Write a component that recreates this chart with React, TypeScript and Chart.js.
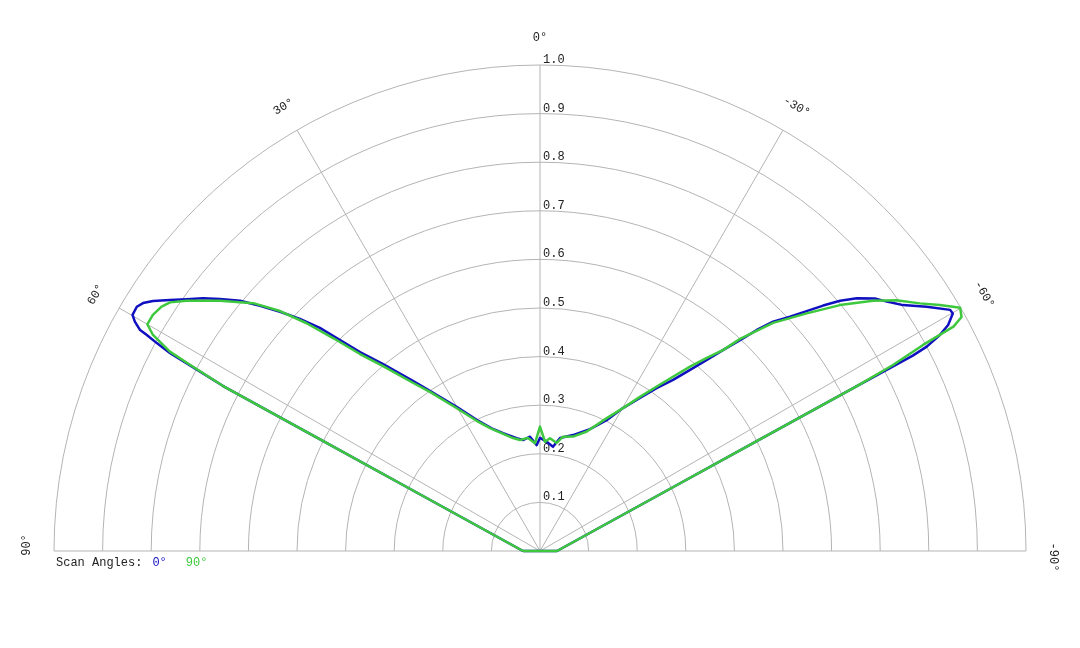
import React, { useEffect, useRef } from "react";
import { Chart, registerables } from "chart.js";

Chart.register(...registerables);

// Polar data: angle in degrees (positive = left of 0°), normalised radius
const blueAngles = [
  90, 64.83, 63.12, 62.5, 62.02, 61.85, 61.52, 61.22, 61.08, 60.48, 59.91, 58.79, 58.01, 57.14,
  55.85, 54.53, 53.14, 51.78, 50.16, 48.78, 47.37, 45.97, 44.61, 43.47, 42.14, 40.02, 36.77,
  34.51, 29.96, 25.68, 21.07, 17.41, 11.68, 8.71, 5.0, 1.78, 0, -3.5, -7.1, -10.06, -15.88,
  -22.29, -26.99, -30.13, -33.17, -35.6, -37.88, -39.65, -41.11, -42.32, -43.6, -44.44, -45.46,
  -46.86, -48.02, -49.08, -50.19, -51.41, -52.97, -54.28, -55.88, -57.72, -59.55, -60.08,
  -61.02, -61.63, -62.15, -62.34, -62.5, -63.12, -64.83, -90, 90,
];
const blueR = [
  0.035, 0.266, 0.501, 0.735, 0.823, 0.863, 0.897, 0.923, 0.94, 0.958, 0.969, 0.97, 0.963, 0.948,
  0.92, 0.893, 0.867, 0.838, 0.804, 0.766, 0.727, 0.687, 0.645, 0.598, 0.552, 0.502, 0.437,
  0.4, 0.342, 0.299, 0.269, 0.254, 0.237, 0.231, 0.236, 0.218, 0.233, 0.225, 0.216, 0.236, 0.248,
  0.271, 0.302, 0.34, 0.376, 0.412, 0.446, 0.484, 0.522, 0.559, 0.602, 0.637, 0.673,
  0.705, 0.738, 0.771, 0.804, 0.834, 0.863, 0.879, 0.902, 0.941, 0.979, 0.98,
  0.96, 0.935, 0.9, 0.866, 0.735, 0.501, 0.266, 0.035, 0.035,
];

const greenAngles = [
  90, 64.83, 63.12, 62.5, 62.0, 61.69, 60.83, 60.0, 58.63, 57.14, 56.09, 54.71, 51.97, 49.17,
  47.29, 45.7, 44.18, 42.42, 40.32, 37.02, 34.68, 30.22, 25.96, 22.12, 13.44, 10.21, 6.06, 2.65,
  0, -2.62, -5.06, -8.79, -11.38, -16.1, -21.38, -26.69, -30.13, -32.95, -35.38, -37.34, -39.14,
  -40.82, -42.32, -43.33, -45.62, -48.3, -50.65, -53.07, -54.87, -56.9, -58.41, -59.92, -60.97,
  -61.51, -61.72, -62.21, -62.5, -63.12, -64.83, -90, 90,
];
const greenR = [
  0.035, 0.266, 0.501, 0.735, 0.816, 0.865, 0.912, 0.933, 0.933, 0.927, 0.917, 0.891, 0.836, 0.78,
  0.728, 0.671, 0.611, 0.549, 0.499, 0.433, 0.398, 0.34, 0.298, 0.273, 0.239, 0.232, 0.234, 0.222,
  0.256, 0.225, 0.233, 0.225, 0.24, 0.245, 0.264, 0.306, 0.34, 0.378, 0.415, 0.451, 0.489,
  0.525, 0.559, 0.6, 0.671, 0.735, 0.798, 0.857, 0.897, 0.933, 0.966, 0.999, 0.992,
  0.968, 0.895, 0.821, 0.735, 0.501, 0.266, 0.035, 0.035,
];

const seriesNames = ["0°", "90°"];
const seriesColors = ["#1010c0", "#3ec83e"];
const ringValues = [0.1, 0.2, 0.3, 0.4, 0.5, 0.6, 0.7, 0.8, 0.9, 1.0];
const ringLabels = ["0.1", "0.2", "0.3", "0.4", "0.5", "0.6", "0.7", "0.8", "0.9", "1.0"];
const spokeAngles = [90, 60, 30, 0, -30, -60, -90];
const spokeLabels = ["90°", "60°", "30°", "0°", "-30°", "-60°", "-90°"];
const legendTitle = "Scan Angles:";

const FONT = "12px 'Liberation Mono', 'Courier New', monospace";
const GRID = "#b4b4b4";

function toXY(angles: number[], rs: number[]) {
  return angles.map((a, i) => {
    const t = (a * Math.PI) / 180;
    return { x: -rs[i] * Math.sin(t), y: rs[i] * Math.cos(t) };
  });
}

const polarGrid = {
  id: "polarGrid",
  beforeDatasetsDraw(chart: any) {
    const ctx = chart.ctx;
    const xs = chart.scales.x;
    const ys = chart.scales.y;
    const cx = xs.getPixelForValue(0);
    const cy = ys.getPixelForValue(0);
    const R = xs.getPixelForValue(1) - cx;
    ctx.save();
    ctx.strokeStyle = GRID;
    ctx.lineWidth = 1;
    ringValues.forEach((v) => {
      ctx.beginPath();
      ctx.arc(cx, cy, v * R, Math.PI, 2 * Math.PI);
      ctx.stroke();
    });
    spokeAngles.forEach((a) => {
      const t = (a * Math.PI) / 180;
      ctx.beginPath();
      ctx.moveTo(cx, cy);
      ctx.lineTo(cx - R * Math.sin(t), cy - R * Math.cos(t));
      ctx.stroke();
    });
    ctx.fillStyle = "#222";
    ctx.font = FONT;
    ctx.textAlign = "left";
    ctx.textBaseline = "alphabetic";
    ringValues.forEach((v, i) => {
      ctx.fillText(ringLabels[i], cx + 3, cy - v * R - 2);
    });
    ctx.textAlign = "center";
    ctx.textBaseline = "middle";
    spokeAngles.forEach((a, i) => {
      const t = (a * Math.PI) / 180;
      const L = R + 27;
      const shift = Math.abs(a) === 90 ? 6 : 0;
      ctx.save();
      ctx.translate(cx - L * Math.sin(t), cy - L * Math.cos(t));
      ctx.rotate(-t);
      ctx.fillText(spokeLabels[i], shift, 0);
      ctx.restore();
    });
    ctx.restore();
  },
  afterDraw(chart: any) {
    const ctx = chart.ctx;
    const area = chart.chartArea;
    ctx.save();
    ctx.font = FONT;
    ctx.textAlign = "left";
    ctx.textBaseline = "alphabetic";
    const y = area.bottom + 15;
    let x = area.left + 2;
    ctx.fillStyle = "#222";
    ctx.fillText(legendTitle, x, y);
    x += ctx.measureText(legendTitle).width + 10;
    const gaps = [19, 0];
    seriesNames.forEach((n, i) => {
      ctx.fillStyle = seriesColors[i];
      ctx.fillText(n, x, y);
      x += ctx.measureText(n).width + gaps[i];
    });
    ctx.restore();
  },
};

export default function App() {
  const ref = useRef<HTMLCanvasElement>(null);
  useEffect(() => {
    if (!ref.current) return;
    const chart = new Chart(ref.current, {
      type: "scatter",
      data: {
        datasets: [
          {
            label: seriesNames[0],
            data: toXY(blueAngles, blueR),
            showLine: true,
            borderColor: seriesColors[0],
            backgroundColor: seriesColors[0],
            borderWidth: 2.5,
            borderJoinStyle: "round",
            pointRadius: 0,
            tension: 0,
            clip: false,
            order: 2,
          },
          {
            label: seriesNames[1],
            data: toXY(greenAngles, greenR),
            showLine: true,
            borderColor: seriesColors[1],
            backgroundColor: seriesColors[1],
            borderWidth: 2.5,
            borderJoinStyle: "round",
            pointRadius: 0,
            tension: 0,
            clip: false,
            order: 1,
          },
        ],
      },
      options: {
        animation: false,
        responsive: false,
        devicePixelRatio: 1,
        layout: { padding: { left: 54, right: 54, top: 65, bottom: 97 } },
        scales: {
          x: { type: "linear", min: -1, max: 1, display: false },
          y: { type: "linear", min: 0, max: 1, display: false },
        },
        plugins: { legend: { display: false }, tooltip: { enabled: false } },
        events: [],
      },
      plugins: [polarGrid],
    });
    return () => chart.destroy();
  }, []);
  return (
    <div style={{ position: "absolute", left: 0, top: 0, width: 1080, height: 648, background: "#fff" }}>
      <canvas ref={ref} width={1080} height={648} style={{ display: "block" }} />
    </div>
  );
}
